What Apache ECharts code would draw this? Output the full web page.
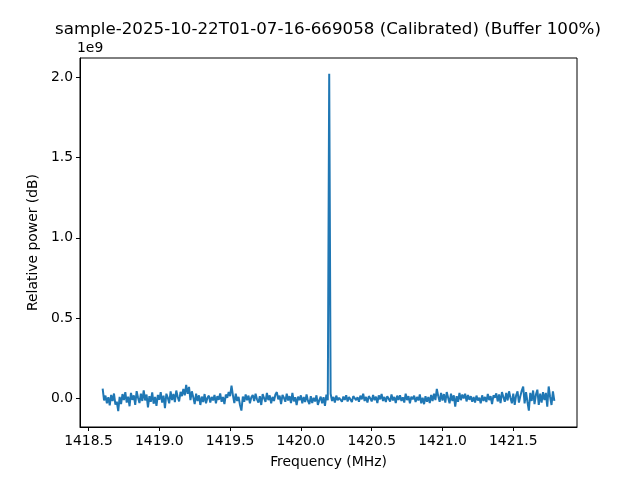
<!DOCTYPE html>
<html>
<head>
<meta charset="utf-8">
<script src="https://cdn.jsdelivr.net/npm/echarts@6/dist/echarts.min.js"></script>
<style>
  html, body { margin: 0; padding: 0; background: #fff; }
  #chart { width: 640px; height: 480px; }
</style>
</head>
<body>
<div id="chart"></div>
<script>
// frequency grid (MHz)
const freqStart = 1418.60;
const freqStep = 0.01;

// relative power, in units of 1e9 (one row = 0.1 MHz)
const power = [
  0.062, -0.012, 0.018, -0.030, 0.008, -0.042, 0.022, -0.015, 0.031, -0.038,
  -0.020, -0.078, 0.010, -0.035, 0.028, -0.010, 0.040, -0.025, 0.012, -0.048,
  0.035, -0.008, 0.020, -0.040, 0.046, 0.005, -0.028, 0.030, -0.015, 0.050,
  -0.012, 0.025, -0.055, 0.015, -0.020, 0.038, -0.032, 0.010, -0.045, 0.022,
  -0.008, 0.040, -0.025, 0.018, -0.060, 0.030, 0.005, -0.030, 0.045, -0.010,
  0.028, -0.022, 0.050, 0.010, -0.018, 0.042, 0.015, 0.060, 0.020, 0.085,
  0.030, 0.072, -0.010, 0.045, 0.008, -0.035, 0.030, -0.015, 0.020, -0.040,
  0.012, -0.022, 0.028, -0.030, 0.005, 0.018, -0.025, 0.010, -0.012, 0.022,
  -0.030, 0.015, -0.008, 0.032, -0.020, 0.010, -0.035, 0.025, 0.005, 0.040,
  0.015, 0.080, 0.020, -0.028, 0.030, -0.015, 0.010, -0.040, -0.075, 0.012,
  -0.020, 0.025, -0.010, 0.018, -0.030, 0.008, 0.022, -0.015, 0.030, -0.005,
  -0.025, 0.015, -0.040, 0.028, 0.002, -0.020, 0.035, -0.010, 0.020, -0.030,
  0.010, -0.015, 0.025, 0.040, -0.005, 0.018, -0.035, 0.022, 0.005, -0.020,
  0.030, -0.012, 0.015, -0.028, 0.035, -0.018, 0.008, -0.040, 0.012, -0.010,
  0.020, -0.030, 0.010, -0.022, 0.025, -0.015, -0.035, 0.015, -0.028, 0.005,
  -0.018, 0.020, -0.040, -0.010, 0.012, -0.030, 0.008, -0.045, 0.025, -0.010,
  2.020, 0.030, -0.015, 0.010, -0.025, 0.018, -0.010, 0.005, 0.015, -0.020,
  0.012, -0.008, 0.020, -0.018, 0.010, 0.005, -0.022, 0.015, 0.025, -0.010,
  0.008, -0.020, 0.018, -0.005, 0.030, -0.015, 0.010, -0.025, 0.015, 0.002,
  -0.018, 0.022, -0.010, 0.012, -0.028, 0.020, -0.005, 0.028, -0.015, 0.010,
  -0.022, 0.015, 0.005, -0.018, 0.025, -0.012, 0.010, -0.028, 0.018, -0.008,
  0.020, -0.015, 0.008, -0.025, 0.030, -0.010, 0.015, -0.030, 0.012, -0.005,
  0.018, -0.022, 0.010, -0.012, 0.025, -0.030, 0.005, -0.035, 0.015, -0.020,
  0.010, -0.028, 0.022, -0.015, 0.030, -0.010, 0.060, 0.015, -0.020, 0.035,
  -0.012, 0.028, -0.025, 0.040, 0.005, -0.030, 0.030, -0.015, 0.020, -0.050,
  0.015, -0.020, 0.035, -0.010, 0.025, 0.000, 0.030, -0.018, 0.022, -0.008,
  0.015, -0.020, 0.010, -0.025, 0.018, -0.012, 0.005, -0.030, 0.020, -0.015,
  0.010, -0.022, 0.028, -0.010, 0.015, -0.035, 0.020, 0.005, 0.032, -0.018,
  0.025, -0.028, 0.040, 0.010, -0.020, 0.035, -0.012, 0.045, 0.005, -0.030,
  0.030, -0.040, 0.020, 0.045, -0.025, 0.015, 0.050, 0.075, -0.030, 0.040,
  -0.020, -0.075, 0.035, -0.015, 0.050, -0.035, 0.025, 0.055, -0.040, 0.030,
  -0.025, 0.040, -0.010, 0.035, -0.050, 0.075, 0.010, -0.040, 0.045, -0.015
];

const xTicks = [1418.5, 1419.0, 1419.5, 1420.0, 1420.5, 1421.0, 1421.5];
const yTicks = [0.0, 0.5, 1.0, 1.5, 2.0];

const titleText = 'sample-2025-10-22T01-07-16-669058 (Calibrated) (Buffer 100%)';
const font = 'DejaVu Sans';

const points = power.map((p, i) => [+(freqStart + i * freqStep).toFixed(2), p]);

const chart = echarts.init(document.getElementById('chart'));

chart.setOption({
  animation: false,
  backgroundColor: '#fff',
  textStyle: { fontFamily: font },
  grid: {
    left: 80, right: 63, top: 58, bottom: 53,
    show: true, borderColor: '#000', borderWidth: 1
  },
  xAxis: {
    type: 'value',
    min: 1418.44,
    max: 1421.95,
    name: 'Frequency (MHz)',
    nameLocation: 'middle',
    nameGap: 28,
    nameTextStyle: { color: '#000', fontSize: 13.9, fontFamily: font },
    axisLine: { show: true, onZero: false, lineStyle: { color: '#000', width: 1 } },
    axisTick: { show: true, inside: false, length: 4, lineStyle: { color: '#000' }, customValues: xTicks },
    axisLabel: {
      color: '#000', fontSize: 13.9, fontFamily: font, margin: 7,
      customValues: xTicks,
      formatter: v => v.toFixed(1)
    },
    splitLine: { show: false }
  },
  yAxis: {
    type: 'value',
    min: -0.177,
    max: 2.118,
    name: 'Relative power (dB)',
    nameLocation: 'middle',
    nameGap: 40,
    nameTextStyle: { color: '#000', fontSize: 13.9, fontFamily: font },
    axisLine: { show: true, onZero: false, lineStyle: { color: '#000', width: 1 } },
    axisTick: { show: true, inside: false, length: 4, lineStyle: { color: '#000' }, customValues: yTicks },
    axisLabel: {
      color: '#000', fontSize: 13.9, fontFamily: font, margin: 7,
      customValues: yTicks,
      formatter: v => v.toFixed(1)
    },
    splitLine: { show: false }
  },
  graphic: [
    {
      type: 'text', x: 328, y: 21,
      style: { text: titleText, fill: '#000', font: '16.7px "DejaVu Sans"', textAlign: 'center' }
    },
    {
      type: 'text', x: 77, y: 41,
      style: { text: '1e9', fill: '#000', font: '13.9px "DejaVu Sans"', textAlign: 'left' }
    }
  ],
  series: [
    {
      type: 'line',
      data: points,
      showSymbol: false,
      lineStyle: { color: '#1f77b4', width: 2 },
      itemStyle: { color: '#1f77b4' }
    }
  ]
});
</script>
</body>
</html>
